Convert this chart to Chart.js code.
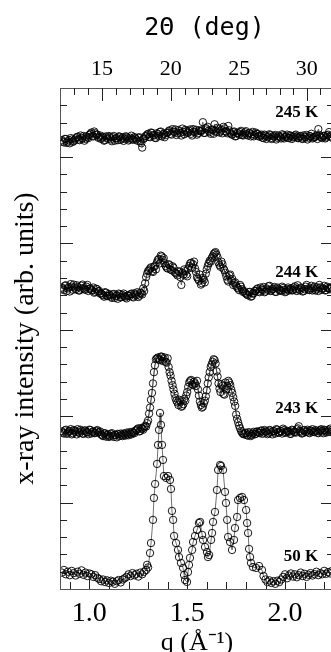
<!DOCTYPE html>
<html>
<head>
<meta charset="utf-8">
<script src="https://cdn.jsdelivr.net/npm/chart.js@4.4.1/dist/chart.umd.min.js"></script>
<style>
    html, body { margin: 0; padding: 0; background: #fff; overflow: hidden; }
    #wrap { width: 340px; height: 664px; }
</style>
</head>
<body>
<div id="wrap"><canvas id="xrayChart" width="340" height="664"></canvas></div>
<script>
// q grid of the first scan at 245 K, 244 K and 243 K
const qGrid = [
    0.86, 0.87, 0.88, 0.89, 0.90, 0.91, 0.92, 0.93, 0.94, 0.95, 0.96, 0.97, 0.98, 0.99,
    1.00, 1.01, 1.02, 1.03, 1.04, 1.05, 1.06, 1.07, 1.08, 1.09, 1.10, 1.11, 1.12, 1.13, 1.14,
    1.15, 1.16, 1.17, 1.18, 1.19, 1.20, 1.21, 1.22, 1.23, 1.24, 1.25, 1.26, 1.27, 1.28, 1.29,
    1.30, 1.31, 1.32, 1.33, 1.34, 1.35, 1.36, 1.37, 1.38, 1.39, 1.40, 1.41, 1.42, 1.43, 1.44,
    1.45, 1.46, 1.47, 1.48, 1.49, 1.50, 1.51, 1.52, 1.53, 1.54, 1.55, 1.56, 1.57, 1.58, 1.59,
    1.60, 1.61, 1.62, 1.63, 1.64, 1.65, 1.66, 1.67, 1.68, 1.69, 1.70, 1.71, 1.72, 1.73, 1.74,
    1.75, 1.76, 1.77, 1.78, 1.79, 1.80, 1.81, 1.82, 1.83, 1.84, 1.85, 1.86, 1.87, 1.88, 1.89,
    1.90, 1.91, 1.92, 1.93, 1.94, 1.95, 1.96, 1.97, 1.98, 1.99, 2.00, 2.01, 2.02, 2.03, 2.04,
    2.05, 2.06, 2.07, 2.08, 2.09, 2.10, 2.11, 2.12, 2.13, 2.14, 2.15, 2.16, 2.17, 2.18, 2.19,
    2.20, 2.21, 2.22, 2.23, 2.24
];

// q grid of the second scan (points in between)
const qGridB = [
    0.865, 0.875, 0.885, 0.895, 0.905, 0.915, 0.925, 0.935, 0.945, 0.955, 0.965, 0.975, 0.985, 0.995,
    1.005, 1.015, 1.025, 1.035, 1.045, 1.055, 1.065, 1.075, 1.085, 1.095, 1.105, 1.115, 1.125, 1.135, 1.145,
    1.155, 1.165, 1.175, 1.185, 1.195, 1.205, 1.215, 1.225, 1.235, 1.245, 1.255, 1.265, 1.275, 1.285, 1.295,
    1.305, 1.315, 1.325, 1.335, 1.345, 1.355, 1.365, 1.375, 1.385, 1.395, 1.405, 1.415, 1.425, 1.435, 1.445,
    1.455, 1.465, 1.475, 1.485, 1.495, 1.505, 1.515, 1.525, 1.535, 1.545, 1.555, 1.565, 1.575, 1.585, 1.595,
    1.605, 1.615, 1.625, 1.635, 1.645, 1.655, 1.665, 1.675, 1.685, 1.695, 1.705, 1.715, 1.725, 1.735, 1.745,
    1.755, 1.765, 1.775, 1.785, 1.795, 1.805, 1.815, 1.825, 1.835, 1.845, 1.855, 1.865, 1.875, 1.885, 1.895,
    1.905, 1.915, 1.925, 1.935, 1.945, 1.955, 1.965, 1.975, 1.985, 1.995, 2.005, 2.015, 2.025, 2.035, 2.045,
    2.055, 2.065, 2.075, 2.085, 2.095, 2.105, 2.115, 2.125, 2.135, 2.145, 2.155, 2.165, 2.175, 2.185, 2.195,
    2.205, 2.215, 2.225, 2.235
];

const int245 = [
    25.98, 25.85, 26.05, 25.90, 25.80, 26.02, 25.92,
    26.08, 26.18, 25.98, 26.12, 26.22, 26.05, 26.15,
    26.28, 26.42, 26.20, 26.38, 26.30, 26.15,
    26.05, 26.18, 25.98, 26.12, 26.22, 26.02, 26.15, 25.95, 26.10, 26.20, 26.00, 26.14, 26.06, 26.18, 25.96, 26.12, 26.04, 26.16,
    26.02, 26.12, 25.92, 25.55, 26.08,
    26.22, 26.35, 26.15, 26.40, 26.25, 26.10, 26.32, 26.45, 26.20, 26.36, 26.28,
    26.42, 26.55, 26.30, 26.48, 26.60, 26.38, 26.50, 26.25, 26.46, 26.58, 26.40, 26.52, 26.35, 26.62, 26.44, 26.30, 26.55,
    26.48, 27.02, 26.40, 26.60, 26.52, 26.35, 26.58, 26.90, 26.45, 26.62, 26.50, 26.38, 26.66, 26.48, 26.80,
    26.40, 26.30, 26.48, 26.22, 26.38, 26.45, 26.28, 26.36, 26.50, 26.25, 26.40, 26.32, 26.20, 26.42, 26.34,
    26.18, 26.30, 26.10, 26.24, 26.15, 26.32, 26.05, 26.22, 26.28, 26.12, 26.20, 26.08, 26.26, 26.16, 26.30, 26.10, 26.22, 26.14, 26.25, 26.18,
    26.10, 26.22, 26.05, 26.18, 26.28, 26.12, 26.20, 26.08, 26.15, 26.25, 26.62, 26.18, 26.10, 26.24, 26.14, 26.30, 26.20, 26.12
];

const int245B = [
    25.90, 26.05, 25.82, 25.98, 26.10, 25.88, 26.00,
    26.15, 26.02, 26.25, 26.08, 25.95, 26.20, 26.10,
    26.35, 26.22, 26.48, 26.30, 26.12, 26.25,
    26.12, 25.95, 26.20, 26.05, 26.15, 25.92, 26.22, 26.08, 25.98, 26.18, 26.06, 25.94, 26.20, 26.10, 26.02, 26.24, 26.00, 26.10,
    25.95, 26.15, 25.80, 26.05, 26.20,
    26.30, 26.18, 26.42, 26.28, 26.12, 26.38, 26.22, 26.48, 26.30, 26.15, 26.40,
    26.50, 26.35, 26.62, 26.45, 26.28, 26.56, 26.40, 26.65, 26.32, 26.50, 26.42, 26.60, 26.25, 26.48, 26.58, 26.38, 26.52,
    26.55, 26.40, 26.68, 26.75, 26.45, 26.60, 26.35, 26.52, 26.70, 26.42, 26.58, 26.75, 26.48, 26.38, 26.55,
    26.32, 26.45, 26.20, 26.40, 26.30, 26.52, 26.25, 26.44, 26.30, 26.38, 26.20, 26.46, 26.28, 26.35, 26.22,
    26.25, 26.12, 26.30, 26.05, 26.20, 26.28, 26.10, 26.18, 26.02, 26.25, 26.15, 26.32, 26.08, 26.20, 26.12, 26.26, 26.05, 26.18, 26.30, 26.10,
    26.20, 26.08, 26.26, 26.14, 26.02, 26.22, 26.35, 26.12, 26.18, 26.05, 26.28, 26.15, 26.22, 26.08, 26.25, 26.45, 26.18
];

const int244 = [
    17.45, 17.30, 17.58, 17.40, 17.22, 17.50, 17.62, 17.35, 17.48, 17.28, 17.55, 17.42, 17.32, 17.60, 17.38,
    17.30, 17.45, 17.20, 17.35, 17.25,
    17.12, 17.00, 17.18, 16.95, 17.08,
    16.92, 17.05, 16.85, 16.98, 17.10, 16.88, 17.02, 16.95, 16.82, 17.00,
    17.05, 16.92, 17.12, 17.00, 16.90, 17.15, 17.05, 17.25,
    18.05, 18.40,
    18.55, 18.40, 18.65, 18.50, 19.05, 18.85,
    19.25, 19.15,
    18.70, 18.55, 18.75, 18.45, 18.60,
    18.30, 18.15, 18.35, 17.60, 18.20, 18.40, 18.10,
    18.70, 18.88, 18.80, 18.55,
    18.05, 17.85, 17.62, 18.00, 17.75,
    18.50, 18.85, 18.95,
    19.25, 19.45, 19.35,
    18.90, 18.65, 18.80, 18.45,
    18.10, 17.80, 18.20, 17.95, 17.70,
    17.55, 17.40, 17.60, 17.35, 17.25,
    17.10, 17.00, 17.20, 16.95, 17.12,
    17.25, 17.40, 17.18, 17.35, 17.48, 17.22, 17.32, 17.55, 17.28, 17.38, 17.20, 17.45, 17.30, 17.25, 17.42, 17.18, 17.35, 17.28,
    17.40, 17.30, 17.52, 17.25, 17.38, 17.45, 17.22, 17.35, 17.60, 17.32, 17.42, 17.28, 17.50, 17.36, 17.25, 17.45, 17.38, 17.55, 17.30, 17.42, 17.35, 17.48
];

const int244B = [
    17.38, 17.55, 17.25, 17.48, 17.65, 17.32, 17.45, 17.58, 17.28, 17.40, 17.62, 17.35, 17.50, 17.25,
    17.40, 17.28, 17.15, 17.38, 17.22, 17.10,
    17.05, 16.92, 17.15, 16.98,
    17.00, 16.85, 17.08, 16.95, 16.80, 17.05, 16.90, 17.10, 16.88, 16.98,
    16.95, 17.10, 16.88, 17.05, 17.18, 16.98, 17.12, 17.40,
    17.70, 18.25,
    18.45, 18.62, 18.35, 18.70, 18.90, 19.10,
    19.30, 19.05, 18.85,
    18.60, 18.80, 18.50, 18.68, 18.35,
    18.25, 18.40, 18.05, 18.30, 18.50, 18.20, 18.55,
    18.85, 18.60, 18.95, 18.35,
    17.95, 18.20, 17.70, 17.90, 18.25,
    18.70, 19.00, 19.15,
    19.38, 19.50, 19.20,
    18.75, 18.95, 18.55, 18.30,
    17.90, 18.15, 17.85, 17.60, 17.75,
    17.45, 17.30, 17.50, 17.20, 17.15,
    17.05, 17.18, 16.92, 17.10, 17.25,
    17.35, 17.22, 17.45, 17.30, 17.18, 17.40, 17.52, 17.25, 17.35, 17.48, 17.20, 17.38, 17.28, 17.50, 17.32, 17.22, 17.45, 17.36,
    17.28, 17.45, 17.35, 17.58, 17.30, 17.42, 17.25, 17.50, 17.38, 17.30, 17.55, 17.40, 17.28, 17.46, 17.60, 17.32, 17.40, 17.28, 17.50, 17.38, 17.45
];

const int243 = [
    9.12, 9.00, 9.22, 9.05, 9.15, 8.95, 9.20, 9.08, 9.25, 9.02, 9.14, 8.98, 9.18, 9.06, 9.22, 9.00, 9.12, 9.04, 9.20, 9.08,
    8.95, 8.85, 9.02, 8.90, 8.80, 8.98, 8.88, 8.92, 8.78, 8.95, 9.00, 8.85, 8.94, 9.05, 8.90, 9.00, 9.10, 9.02,
    9.20, 9.30, 9.15, 9.28, 9.35,
    9.40, 9.75, 10.50, 11.35, 12.55, 13.30,
    13.40, 13.25, 13.45, 13.30, 13.15, 13.35,
    12.55, 12.05, 11.55, 11.05,
    10.80, 10.95, 10.55, 10.70, 10.90, 11.40,
    11.95, 12.10, 11.80, 11.90, 12.05,
    11.20, 10.65, 10.55, 10.90,
    11.50, 12.25, 12.85, 13.15, 13.25, 12.60,
    11.90, 11.40, 11.75, 11.25,
    11.55, 12.05, 11.80, 11.35, 10.85,
    10.10, 9.65, 9.30, 9.05,
    8.95, 9.05, 8.88, 9.00, 8.92, 9.10, 8.98,
    9.10, 9.02, 9.18, 9.05, 9.12, 8.96, 9.20, 9.08, 9.15, 9.00, 9.22, 9.06, 9.14, 9.28, 9.04, 9.16, 9.10, 8.98, 9.18, 9.08,
    9.24, 9.42, 9.10, 9.02, 9.20, 9.12, 9.06, 9.18, 9.25, 9.08, 9.15, 9.02, 9.20, 9.12, 9.22, 9.05, 9.16, 9.28, 9.10
];

const int243B = [
    9.05, 9.18, 8.98, 9.12, 9.25, 9.02, 9.15, 8.95, 9.10, 9.22, 9.00, 9.16, 9.08, 8.96, 9.20, 9.10, 9.02, 9.15, 9.05, 9.12,
    8.90, 9.00, 8.82, 8.95, 8.86, 9.02, 8.80, 8.92, 8.98, 8.85, 8.92, 9.00, 8.88, 8.96, 9.08, 8.95, 9.05, 9.15,
    9.25, 9.12, 9.32, 9.22, 9.45,
    9.60, 10.15, 10.95, 11.90, 12.95, 13.35,
    13.30, 13.45, 13.20, 13.40, 13.10, 12.85,
    12.35, 11.80, 11.30, 10.90,
    10.65, 10.85, 10.60, 11.00, 11.20, 11.70,
    12.05, 11.85, 12.00, 11.75, 11.55,
    10.85, 10.50, 10.75, 11.15,
    11.90, 12.55, 13.00, 13.30, 13.05, 12.30,
    11.60, 11.85, 11.30, 11.95,
    11.75, 11.95, 11.55, 11.10, 10.60,
    9.85, 9.45, 9.15, 8.98,
    9.02, 8.90, 9.08, 8.85, 9.00, 8.95, 9.12,
    9.05, 9.15, 8.98, 9.20, 9.10, 9.02, 9.18, 8.95, 9.12, 9.25, 9.05, 9.15, 9.00, 9.20, 9.08, 9.12, 8.98, 9.22, 9.10,
    9.05, 9.30, 9.15, 9.00, 9.18, 9.08, 9.22, 9.02, 9.14, 9.10, 9.20, 9.05, 9.15, 9.25, 9.02, 9.18, 9.10, 9.22, 9.08
];

// 50 K scan has its own q points
const q50 = [
    0.86, 0.87, 0.88, 0.89, 0.90, 0.91, 0.92, 0.93, 0.94, 0.95, 0.96, 0.97, 0.98, 0.99,
    1.00, 1.01, 1.02, 1.03, 1.04, 1.05, 1.06, 1.07, 1.08, 1.09, 1.10, 1.11, 1.12, 1.13, 1.14,
    1.15, 1.16, 1.17, 1.18, 1.19, 1.20, 1.21, 1.22, 1.23, 1.24, 1.25, 1.26, 1.27, 1.28,
    1.29, 1.295, 1.30, 1.31, 1.315, 1.325, 1.33, 1.336, 1.346, 1.351,
    1.356, 1.361, 1.366, 1.371, 1.376, 1.381, 1.392, 1.402, 1.412, 1.417,
    1.422, 1.428, 1.433, 1.443, 1.453, 1.458, 1.468, 1.479, 1.484, 1.489,
    1.499, 1.504, 1.509, 1.514, 1.525, 1.530, 1.540, 1.550, 1.560, 1.566,
    1.576, 1.581, 1.591, 1.601, 1.606, 1.612, 1.622, 1.627, 1.632, 1.642,
    1.652, 1.658, 1.668, 1.673, 1.683, 1.693, 1.698, 1.704, 1.709, 1.719,
    1.729, 1.739, 1.744, 1.755, 1.760, 1.770, 1.780, 1.790, 1.801, 1.806,
    1.811, 1.816, 1.821, 1.826, 1.836, 1.852, 1.867, 1.882,
    1.89, 1.90, 1.91, 1.92, 1.93, 1.94, 1.95, 1.96, 1.97, 1.98, 1.99,
    2.00, 2.01, 2.02, 2.03, 2.04, 2.05, 2.06, 2.07, 2.08, 2.09, 2.10, 2.11, 2.12, 2.13, 2.14,
    2.15, 2.16, 2.17, 2.18, 2.19, 2.20, 2.21, 2.22, 2.23, 2.24
];

const int50 = [
    0.95, 1.10, 0.85, 1.00, 0.80, 1.05, 0.92, 0.78, 1.00, 0.88, 1.08, 0.82, 0.95, 0.75, 0.90, 0.85, 0.70, 0.80, 0.65,
    0.58, 0.45, 0.55, 0.40, 0.50, 0.35, 0.48, 0.42, 0.30, 0.45, 0.52, 0.38, 0.55, 0.62,
    0.70, 0.85, 0.75, 0.92, 0.80, 0.88, 0.72, 0.95, 0.85, 1.00,
    1.10, 1.40, 1.25, 2.08, 2.66, 4.00, 5.27, 6.08, 7.24, 8.34,
    9.21, 10.19, 9.50, 8.34, 7.47, 6.54, 6.43, 6.54, 6.31, 5.79,
    4.52, 4.00, 3.07, 2.66, 2.26, 1.85, 1.51, 1.22, 0.81, 0.52,
    0.41, 0.98, 1.39, 1.80, 2.26, 2.72, 3.07, 3.42, 3.82, 3.88,
    3.13, 2.84, 2.43, 2.14, 1.85, 1.97, 2.84, 3.24, 3.88, 4.46,
    5.73, 6.89, 7.18, 7.12, 6.89, 5.62, 4.98, 4.00, 3.01, 2.72,
    2.26, 2.84, 3.53, 4.17, 5.15, 5.27, 5.33, 5.15, 4.57, 3.82,
    3.24, 2.32, 1.85, 1.51, 1.27, 1.22, 1.33, 1.10,
    0.75, 0.55, 0.40, 0.50, 0.35, 0.45, 0.30, 0.48, 0.40, 0.55,
    0.70, 0.85, 0.62, 0.78, 0.90, 0.72, 0.85, 0.68, 0.80, 0.95, 0.75, 0.88, 0.70, 0.82, 0.92,
    0.78, 0.86, 1.00, 0.80, 0.92, 0.85, 1.05, 0.88, 0.98, 0.90, 1.05
];

const tempLabels = ['245 K', '244 K', '243 K', '50 K'];

// axis ticks
const qLabelTicks = [1.0, 1.5, 2.0];
const qMinorTicks = [0.9, 1.1, 1.2, 1.3, 1.4, 1.6, 1.7, 1.8, 1.9, 2.1, 2.2];
const twoThetaLabels = [15, 20, 25, 30];
const twoThetaMinor = [13, 14, 16, 17, 18, 19, 21, 22, 23, 24, 26, 27, 28, 29, 31];
const yTicks = [1, 2, 3, 4, 5, 6, 7, 8, 9, 10, 11, 12, 13, 14, 15, 16, 17, 18, 19, 20, 21, 22, 23, 24, 25, 26, 27, 28];

const WAVELENGTH = 1.5406; // Cu K-alpha, angstrom

function qFromTwoTheta(tt) {
    return 4 * Math.PI / WAVELENGTH * Math.sin(tt / 2 * Math.PI / 180);
}

function toPoints(xs, ys) {
    return xs.map((v, i) => ({ x: v, y: ys[i] }));
}

const serif = '"Liberation Serif", "Times New Roman", serif';

// inward ticks on all four sides plus the frame
const frameTicks = {
    id: 'frameTicks',
    afterDatasetsDraw(chart) {
        const { ctx, chartArea: a, scales } = chart;
        const xs = scales.x, ys = scales.y;
        const major = 13, minor = 7;
        ctx.save();
        ctx.lineWidth = 1;
        ctx.strokeStyle = '#555';
        ctx.strokeRect(a.left + 0.5, a.top + 0.5, a.right - a.left, a.bottom - a.top);
        ctx.strokeStyle = '#222';
        const vline = (px, y0, y1) => {
            const xx = Math.round(px) + 0.5;
            ctx.beginPath(); ctx.moveTo(xx, y0); ctx.lineTo(xx, y1); ctx.stroke();
        };
        const hline = (py, x0, x1) => {
            const yy = Math.round(py) + 0.5;
            ctx.beginPath(); ctx.moveTo(x0, yy); ctx.lineTo(x1, yy); ctx.stroke();
        };
        qLabelTicks.forEach(v => vline(xs.getPixelForValue(v), a.bottom, a.bottom - major));
        qMinorTicks.forEach(v => vline(xs.getPixelForValue(v), a.bottom, a.bottom - minor));
        twoThetaLabels.forEach(t => vline(xs.getPixelForValue(qFromTwoTheta(t)), a.top, a.top + major));
        twoThetaMinor.forEach(t => vline(xs.getPixelForValue(qFromTwoTheta(t)), a.top, a.top + minor));
        yTicks.forEach(v => {
            const len = v % 5 === 0 ? major : minor;
            const py = ys.getPixelForValue(v);
            hline(py, a.left, a.left + len);
            hline(py, a.right, a.right - len);
        });
        ctx.restore();
    }
};

// temperature labels next to each curve
const curveLabels = {
    id: 'curveLabels',
    afterDatasetsDraw(chart, args, opts) {
        const { ctx, scales } = chart;
        ctx.save();
        ctx.font = 'bold 17px ' + serif;
        ctx.fillStyle = '#000';
        ctx.textAlign = 'right';
        ctx.textBaseline = 'middle';
        tempLabels.forEach((txt, i) => {
            ctx.fillText(txt, scales.x.getPixelForValue(opts.q), scales.y.getPixelForValue(opts.levels[i]));
        });
        ctx.restore();
    }
};

const series = [
    { label: '245 K', data: toPoints(qGrid, int245) },
    { label: '245 K b', data: toPoints(qGridB, int245B) },
    { label: '244 K', data: toPoints(qGrid, int244) },
    { label: '244 K b', data: toPoints(qGridB, int244B) },
    { label: '243 K', data: toPoints(qGrid, int243) },
    { label: '243 K b', data: toPoints(qGridB, int243B) },
    { label: '50 K', data: toPoints(q50, int50) }
];

new Chart(document.getElementById('xrayChart'), {
    type: 'line',
    data: {
        datasets: series.map(s => ({
            label: s.label,
            data: s.data,
            showLine: true,
            borderColor: '#333',
            borderWidth: 0.7,
            tension: 0,
            pointRadius: 3.7,
            pointBorderWidth: 0.9,
            pointBorderColor: '#000',
            pointBackgroundColor: 'rgba(0,0,0,0)'
        }))
    },
    options: {
        responsive: false,
        animation: false,
        devicePixelRatio: 1,
        layout: { padding: { left: 0, right: 6, top: 0, bottom: 0 } },
        plugins: {
            legend: { display: false },
            tooltip: { enabled: false },
            curveLabels: { q: 2.169, levels: [27.55, 18.29, 10.47, 1.85] }
        },
        scales: {
            x: {
                type: 'linear',
                position: 'bottom',
                min: 0.85,
                max: 2.25,
                grid: { display: false },
                border: { display: false },
                afterFit: scale => { scale.height = 75; },
                afterBuildTicks: scale => { scale.ticks = qLabelTicks.map(v => ({ value: v })); },
                ticks: {
                    autoSkip: false,
                    maxRotation: 0,
                    padding: 0,
                    color: '#000',
                    font: { family: serif, size: 28 },
                    callback: v => v.toFixed(1)
                },
                title: {
                    display: true,
                    text: 'q (Å⁻¹)',
                    color: '#000',
                    font: { family: serif, size: 26 },
                    padding: { top: 0, bottom: 5 }
                }
            },
            x2: {
                type: 'linear',
                position: 'top',
                min: 0.85,
                max: 2.25,
                grid: { display: false },
                border: { display: false },
                afterFit: scale => { scale.height = 88; },
                afterBuildTicks: scale => { scale.ticks = twoThetaLabels.map(t => ({ value: qFromTwoTheta(t) })); },
                ticks: {
                    autoSkip: false,
                    maxRotation: 0,
                    padding: -2,
                    color: '#000',
                    font: { family: serif, size: 22 },
                    callback: (v, i) => String(twoThetaLabels[i])
                },
                title: {
                    display: true,
                    text: '\u00a02Θ (deg)',
                    color: '#000',
                    font: { family: '"DejaVu Sans Mono", monospace', size: 25 },
                    padding: { top: 13, bottom: 0 }
                }
            },
            y: {
                type: 'linear',
                min: 0,
                max: 29,
                grid: { display: false },
                border: { display: false },
                afterFit: scale => { scale.width = 60; },
                ticks: { display: false },
                title: {
                    display: true,
                    text: 'x-ray intensity (arb. units)',
                    color: '#000',
                    font: { family: serif, size: 28 },
                    padding: { top: 9, bottom: 0 }
                }
            }
        }
    },
    plugins: [frameTicks, curveLabels]
});
</script>
</body>
</html>
